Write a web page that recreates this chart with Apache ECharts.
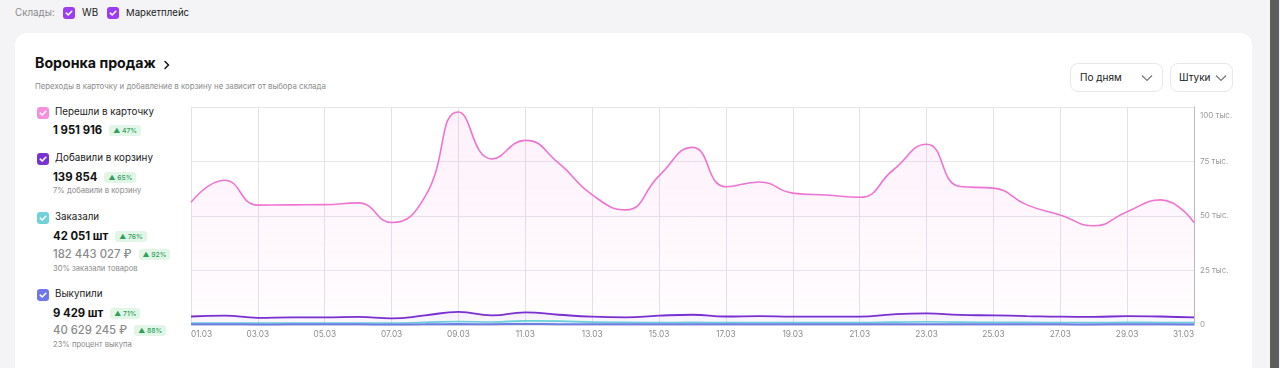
<!DOCTYPE html>
<html><head><meta charset="utf-8">
<script src="https://cdn.jsdelivr.net/npm/echarts@6/dist/echarts.min.js"></script>
<style>
html,body{margin:0;padding:0;width:1280px;height:368px;overflow:hidden;background:#f4f4f6;font-family:Inter,"Noto Sans",sans-serif;color:#1a1a1a;}
.abs{position:absolute;white-space:nowrap;}
.card{position:absolute;left:15px;top:33px;width:1237px;height:360px;background:#fff;border-radius:12px;}
.cb{position:absolute;width:12px;height:12px;border-radius:3px;}
.cb svg{position:absolute;left:0;top:0;}
.badge{display:inline-block;background:#e2f6e8;color:#2f9f5a;font-size:6.8px;line-height:11px;padding:0 4px;border-radius:3px;vertical-align:1px;margin-left:7px;font-weight:500;}
.lbl{font-size:9.8px;color:#1a1a1a;}
.val{font-size:11.3px;font-weight:700;color:#111;}
.val2{font-size:11.3px;font-weight:500;color:#8a8a8a;}
.note{font-size:7.6px;color:#8a8a8a;}
.dd{position:absolute;height:27px;border:1px solid #e8e8ec;border-radius:8px;background:#fff;font-size:10px;line-height:27px;}
.sb{position:absolute;left:1270px;top:0;width:9px;height:368px;background:#5e5e5e;}
</style></head>
<body>
<div class="abs" style="left:15px;top:7px;font-size:9.8px;color:#8a8a8a;">Склады:</div>
<div class="cb" style="left:63px;top:7px;background:#9d3cf0;"><svg width="12" height="12"><path d="M3.3 6.2 L5.2 8 L8.8 4.3" stroke="#fff" stroke-width="1.6" fill="none" stroke-linecap="round" stroke-linejoin="round"/></svg></div>
<div class="abs" style="left:82px;top:7px;font-size:9.8px;">WB</div>
<div class="cb" style="left:107px;top:7px;background:#9d3cf0;"><svg width="12" height="12"><path d="M3.3 6.2 L5.2 8 L8.8 4.3" stroke="#fff" stroke-width="1.6" fill="none" stroke-linecap="round" stroke-linejoin="round"/></svg></div>
<div class="abs" style="left:126px;top:7px;font-size:9.6px;">Маркетплейс</div>

<div class="card"></div>
<div class="abs" style="left:35px;top:54px;font-size:14.2px;font-weight:700;color:#111;">Воронка продаж</div>
<div class="abs" style="left:163px;top:56px;"><svg width="8" height="14"><path d="M2 3.5 L5.5 7 L2 10.5" stroke="#111" stroke-width="1.5" fill="none" stroke-linecap="round" stroke-linejoin="round"/></svg></div>
<div class="abs" style="left:35px;top:81px;font-size:7.8px;color:#8a8a8a;">Переходы в карточку и добавление в корзину не зависит от выбора склада</div>

<div class="dd" style="left:1070px;top:63px;width:91px;"><span style="position:absolute;left:9px;">По дням</span><svg style="position:absolute;left:70px;top:9px;" width="12" height="10"><path d="M1 2.5 L6 7.5 L11 2.5" stroke="#777" stroke-width="1.2" fill="none"/></svg></div>
<div class="dd" style="left:1170px;top:63px;width:61px;"><span style="position:absolute;left:8px;">Штуки</span><svg style="position:absolute;left:44px;top:9px;" width="12" height="10"><path d="M1 2.5 L6 7.5 L11 2.5" stroke="#777" stroke-width="1.2" fill="none"/></svg></div>

<!-- legend -->
<div class="cb" style="left:37px;top:107px;background:#f490dc;"><svg width="12" height="12"><path d="M3.3 6.2 L5.2 8 L8.8 4.3" stroke="#fff" stroke-width="1.6" fill="none" stroke-linecap="round" stroke-linejoin="round"/></svg></div>
<div class="abs lbl" style="left:55px;top:106px;">Перешли в карточку</div>
<div class="abs val" style="left:53px;top:123px;">1 951 916<span class="badge">▲ 47%</span></div>

<div class="cb" style="left:37px;top:153px;background:#7b32d4;"><svg width="12" height="12"><path d="M3.3 6.2 L5.2 8 L8.8 4.3" stroke="#fff" stroke-width="1.6" fill="none" stroke-linecap="round" stroke-linejoin="round"/></svg></div>
<div class="abs lbl" style="left:55px;top:152px;">Добавили в корзину</div>
<div class="abs val" style="left:53px;top:170px;">139 854<span class="badge">▲ 65%</span></div>
<div class="abs note" style="left:53px;top:186px;">7% добавили в корзину</div>

<div class="cb" style="left:37px;top:212px;background:#6fd2d8;"><svg width="12" height="12"><path d="M3.3 6.2 L5.2 8 L8.8 4.3" stroke="#fff" stroke-width="1.6" fill="none" stroke-linecap="round" stroke-linejoin="round"/></svg></div>
<div class="abs lbl" style="left:55px;top:211px;">Заказали</div>
<div class="abs val" style="left:53px;top:229px;">42 051 шт<span class="badge">▲ 76%</span></div>
<div class="abs val2" style="left:53px;top:247px;">182 443 027 ₽<span class="badge">▲ 92%</span></div>
<div class="abs note" style="left:53px;top:264px;">30% заказали товаров</div>

<div class="cb" style="left:37px;top:289px;background:#6f78e8;"><svg width="12" height="12"><path d="M3.3 6.2 L5.2 8 L8.8 4.3" stroke="#fff" stroke-width="1.6" fill="none" stroke-linecap="round" stroke-linejoin="round"/></svg></div>
<div class="abs lbl" style="left:55px;top:288px;">Выкупили</div>
<div class="abs val" style="left:53px;top:306px;">9 429 шт<span class="badge">▲ 71%</span></div>
<div class="abs val2" style="left:53px;top:323px;">40 629 245 ₽<span class="badge">▲ 88%</span></div>
<div class="abs note" style="left:53px;top:340px;">23% процент выкупа</div>

<div class="sb"></div>
<div id="chart" style="position:absolute;left:180px;top:95px;width:1070px;height:260px;"></div>

<script>
var dates = ['01.03','02.03','03.03','04.03','05.03','06.03','07.03','08.03','09.03','10.03','11.03','12.03','13.03','14.03','15.03','16.03','17.03','18.03','19.03','20.03','21.03','22.03','23.03','24.03','25.03','26.03','27.03','28.03','29.03','30.03','31.03'];
var visits = [56300,66400,55000,55100,55200,56000,47000,58900,97700,76200,84700,74200,59700,52800,68400,81500,63400,65600,60500,59600,58600,71100,82900,63500,62800,55100,50500,45500,52000,57400,47000];
var carts = [3900,4300,3300,3500,3500,3700,3000,4400,6000,4400,5800,4700,3800,3500,4300,4700,3900,4100,3800,3800,3800,4900,5300,4600,4400,4100,3800,3700,4100,3900,3500];
var orders = [900,950,900,900,900,950,900,1200,1600,1400,1900,1800,1300,1200,1150,1200,1100,1150,1100,1100,1100,1300,1500,1300,1250,1200,1150,1100,1200,1150,1100];
var buyouts = [300,320,280,290,290,300,270,330,420,360,450,400,320,300,310,330,300,310,290,290,290,330,380,320,310,300,290,280,300,290,270];
var yTicks = [0,25000,50000,75000,100000];

var chart = echarts.init(document.getElementById('chart'), null, {renderer:'canvas'});
function lineSeries(name, data, color, width, fillTop, fillBottom, z){
  return {
    name:name, type:'line', data:data, smooth:0.5,
    symbol:'none', z:z,
    lineStyle:{color:color, width:width},
    areaStyle:{color:new echarts.graphic.LinearGradient(0,0,0,1,[{offset:0,color:fillTop},{offset:1,color:fillBottom}])}
  };
}
chart.setOption({
  animation:false,
  grid:{left:11, top:12, width:1003, height:218, containLabel:false},
  xAxis:{
    type:'category', data:dates, boundaryGap:false,
    axisLine:{show:false}, axisTick:{show:false},
    axisLabel:{interval:1, color:'#8c8c8c', fontSize:8.3, margin:6, fontFamily:'Inter', alignMinLabel:'left', alignMaxLabel:'right'},
    splitLine:{show:true, interval:1, lineStyle:{color:'#e4e2e8', width:1}}
  },
  yAxis:{
    type:'value', position:'right', min:yTicks[0], max:yTicks[yTicks.length-1], interval:25000,
    axisLine:{show:true, lineStyle:{color:'#b9b9bd'}}, axisTick:{show:false},
    splitLine:{lineStyle:{color:'#e6e6ea'}},
    axisLabel:{margin:6, color:'#9a9a9a', fontSize:8, fontFamily:'Inter',
      formatter:function(v){ if(v===0) return '0'; var t=(v/1000)+' тыс.'; return v===yTicks[yTicks.length-1] ? '{top|'+t+'}' : t; },
      rich:{top:{padding:[17,0,0,0], color:'#9a9a9a', fontSize:8, fontFamily:'Inter'}}
    }
  },
  series:[
    lineSeries('Перешли в карточку', visits, '#ef74d2', 1.6, 'rgba(242,130,215,0.17)', 'rgba(242,130,215,0.02)', 2),
    lineSeries('Добавили в корзину', carts, '#7a2fd0', 1.8, 'rgba(140,70,220,0.10)', 'rgba(140,70,220,0.05)', 3),
    lineSeries('Заказали', orders, '#68cfd8', 1.6, 'rgba(104,207,216,0.18)', 'rgba(104,207,216,0.12)', 4),
    lineSeries('Выкупили', buyouts, '#6d7de6', 2, 'rgba(109,125,230,0.25)', 'rgba(109,125,230,0.25)', 5)
  ]
});
</script>
</body></html>
